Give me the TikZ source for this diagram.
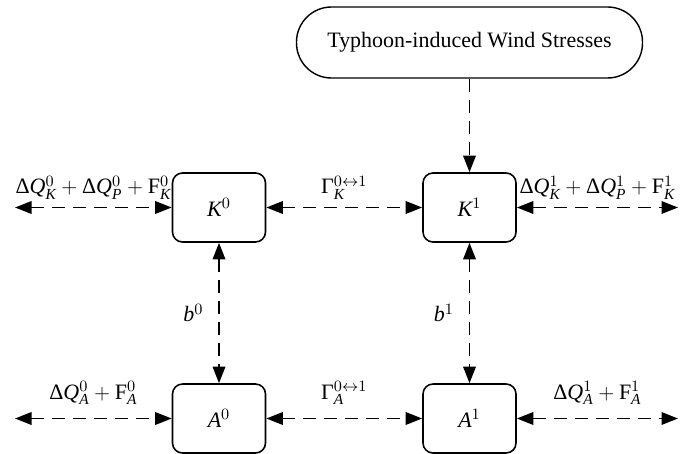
\documentclass[tikz,border=0pt]{standalone}
\usepackage{fontspec}
\setmainfont{Liberation Serif}
\usepackage{tikz}
\usetikzlibrary{positioning,arrows.meta}

\begin{document}
\begin{tikzpicture}[font=\fontsize{12.5}{15}\selectfont,
      state/.style={draw,line width=0.9pt,rounded corners=0.2cm,minimum width=1.86cm,minimum height=1.38cm,align=center},
      source/.style={draw,line width=0.8pt,rounded corners=0.7cm,minimum width=6.92cm,minimum height=1.42cm,align=center},
      link/.style={{Triangle[length=0.33cm,width=0.25cm]}-{Triangle[length=0.33cm,width=0.25cm]},line width=1pt,dash pattern=on 0.26cm off 0.16cm},
      push/.style={-{Triangle[length=0.33cm,width=0.25cm]},line width=1pt,dash pattern=on 0.26cm off 0.16cm}
    ]
    \useasboundingbox (0,0) rectangle (13.84,9.06);

    \node[source] (wind) at (9.39,8.21) {Typhoon-induced Wind Stresses};

    \node[state] (K0) at (4.38,4.91) {$\mathit{K}^0$};
    \node[state] (K1) at (9.39,4.91) {$\mathit{K}^1$};
    \node[state] (A0) at (4.38,0.69) {$\mathit{A}^0$};
    \node[state] (A1) at (9.39,0.69) {$\mathit{A}^1$};

    % free ends of the exchange arrows
    \coordinate (kl) at (0.30,4.91);
    \coordinate (kr) at (13.56,4.91);
    \coordinate (al) at (0.30,0.69);
    \coordinate (ar) at (13.56,0.69);

    \draw[push] (wind.south) -- (K1.north);

    \draw[link] (kl) -- (K0.west)
      node[midway,above=1pt]{$\mathrm{Δ}\mathit{Q}^0_{\mathit{K}}+\mathrm{Δ}\mathit{Q}^0_{\mathit{P}}+\mathrm{F}^0_{\mathit{K}}$};
    \draw[link] (K0.east) -- (K1.west)
      node[midway,above=1pt]{$\mathrm{Γ}^{0\leftrightarrow1}_{\mathit{K}}$};
    \draw[link] (K1.east) -- (kr)
      node[midway,above=1pt]{$\mathrm{Δ}\mathit{Q}^1_{\mathit{K}}+\mathrm{Δ}\mathit{Q}^1_{\mathit{P}}+\mathrm{F}^1_{\mathit{K}}$};

    \draw[link] (al) -- (A0.west)
      node[midway,above=4pt]{$\mathrm{Δ}\mathit{Q}^0_{\mathit{A}}+\mathrm{F}^0_{\mathit{A}}$};
    \draw[link] (A0.east) -- (A1.west)
      node[midway,above=4pt]{$\mathrm{Γ}^{0\leftrightarrow1}_{\mathit{A}}$};
    \draw[link] (A1.east) -- (ar)
      node[midway,above=4pt]{$\mathrm{Δ}\mathit{Q}^1_{\mathit{A}}+\mathrm{F}^1_{\mathit{A}}$};

    \draw[link] (K0.south) -- (A0.north)
      node[midway,left=5pt]{$\mathit{b}^0$};
    \draw[link] (K1.south) -- (A1.north)
      node[midway,left=5pt]{$\mathit{b}^1$};
  \end{tikzpicture}
\end{document}
